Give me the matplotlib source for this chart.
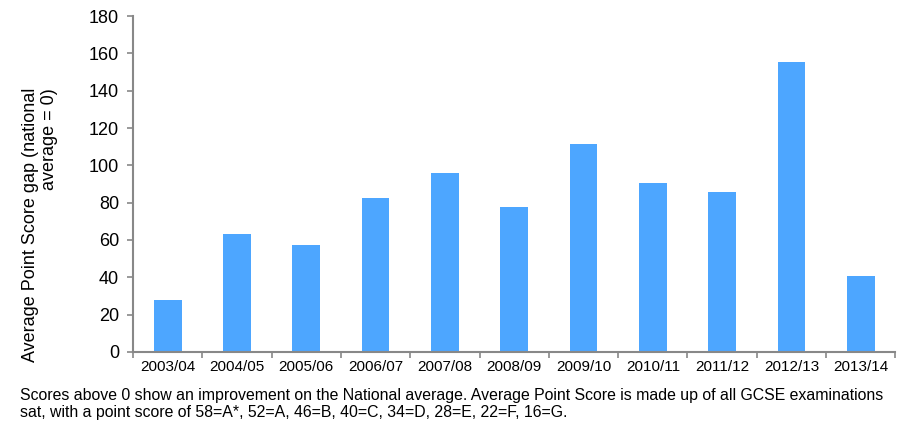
import numpy as np
import matplotlib.pyplot as plt

plt.rcParams['font.family'] = ['Liberation Sans', 'DejaVu Sans']

years = ["2003/04", "2004/05", "2005/06", "2006/07", "2007/08", "2008/09",
         "2009/10", "2010/11", "2011/12", "2012/13", "2013/14"]
gap = [28, 63, 57.5, 82.5, 96, 77.5, 111.5, 90.5, 85.5, 155.5, 40.5]

fig = plt.figure(figsize=(8.99, 4.24), dpi=100)
ax = fig.add_axes([0.148, 0.170, 0.848, 0.792])

x = np.arange(len(years))
ax.bar(x, gap, width=0.4, color="#4da6ff")

ax.set_xlim(-0.5, len(years) - 0.5)
ax.set_ylim(0, 180)
ax.set_yticks(np.arange(0, 181, 20))
ax.set_xticks(x)
ax.set_xticklabels(years, fontsize=11)
ax.set_xticks(np.arange(-0.5, len(years), 1), minor=True)
ax.tick_params(axis="x", which="major", length=0, pad=6)
ax.tick_params(axis="x", which="minor", length=4, color="#888888", width=1.2)
ax.tick_params(axis="y", length=4, color="#888888", width=1.2, labelsize=13, pad=6)

for s in ["top", "right"]:
    ax.spines[s].set_visible(False)
for s in ["left", "bottom"]:
    ax.spines[s].set_color("#888888")
    ax.spines[s].set_linewidth(1.5)

fig.text(40 / 899, 1 - 225 / 424, "Average Point Score gap (national\naverage = 0)",
         fontsize=13, rotation=90, ha="center", va="center",
         multialignment="right", linespacing=1.15)

fig.text(0.022, 1 - 388 / 424,
         "Scores above 0 show an improvement on the National average. Average Point Score is made up of all GCSE examinations\n"
         "sat, with a point score of 58=A*, 52=A, 46=B, 40=C, 34=D, 28=E, 22=F, 16=G.",
         fontsize=11.4, linespacing=1.15, va="top")

plt.savefig("out.png", dpi=100)
